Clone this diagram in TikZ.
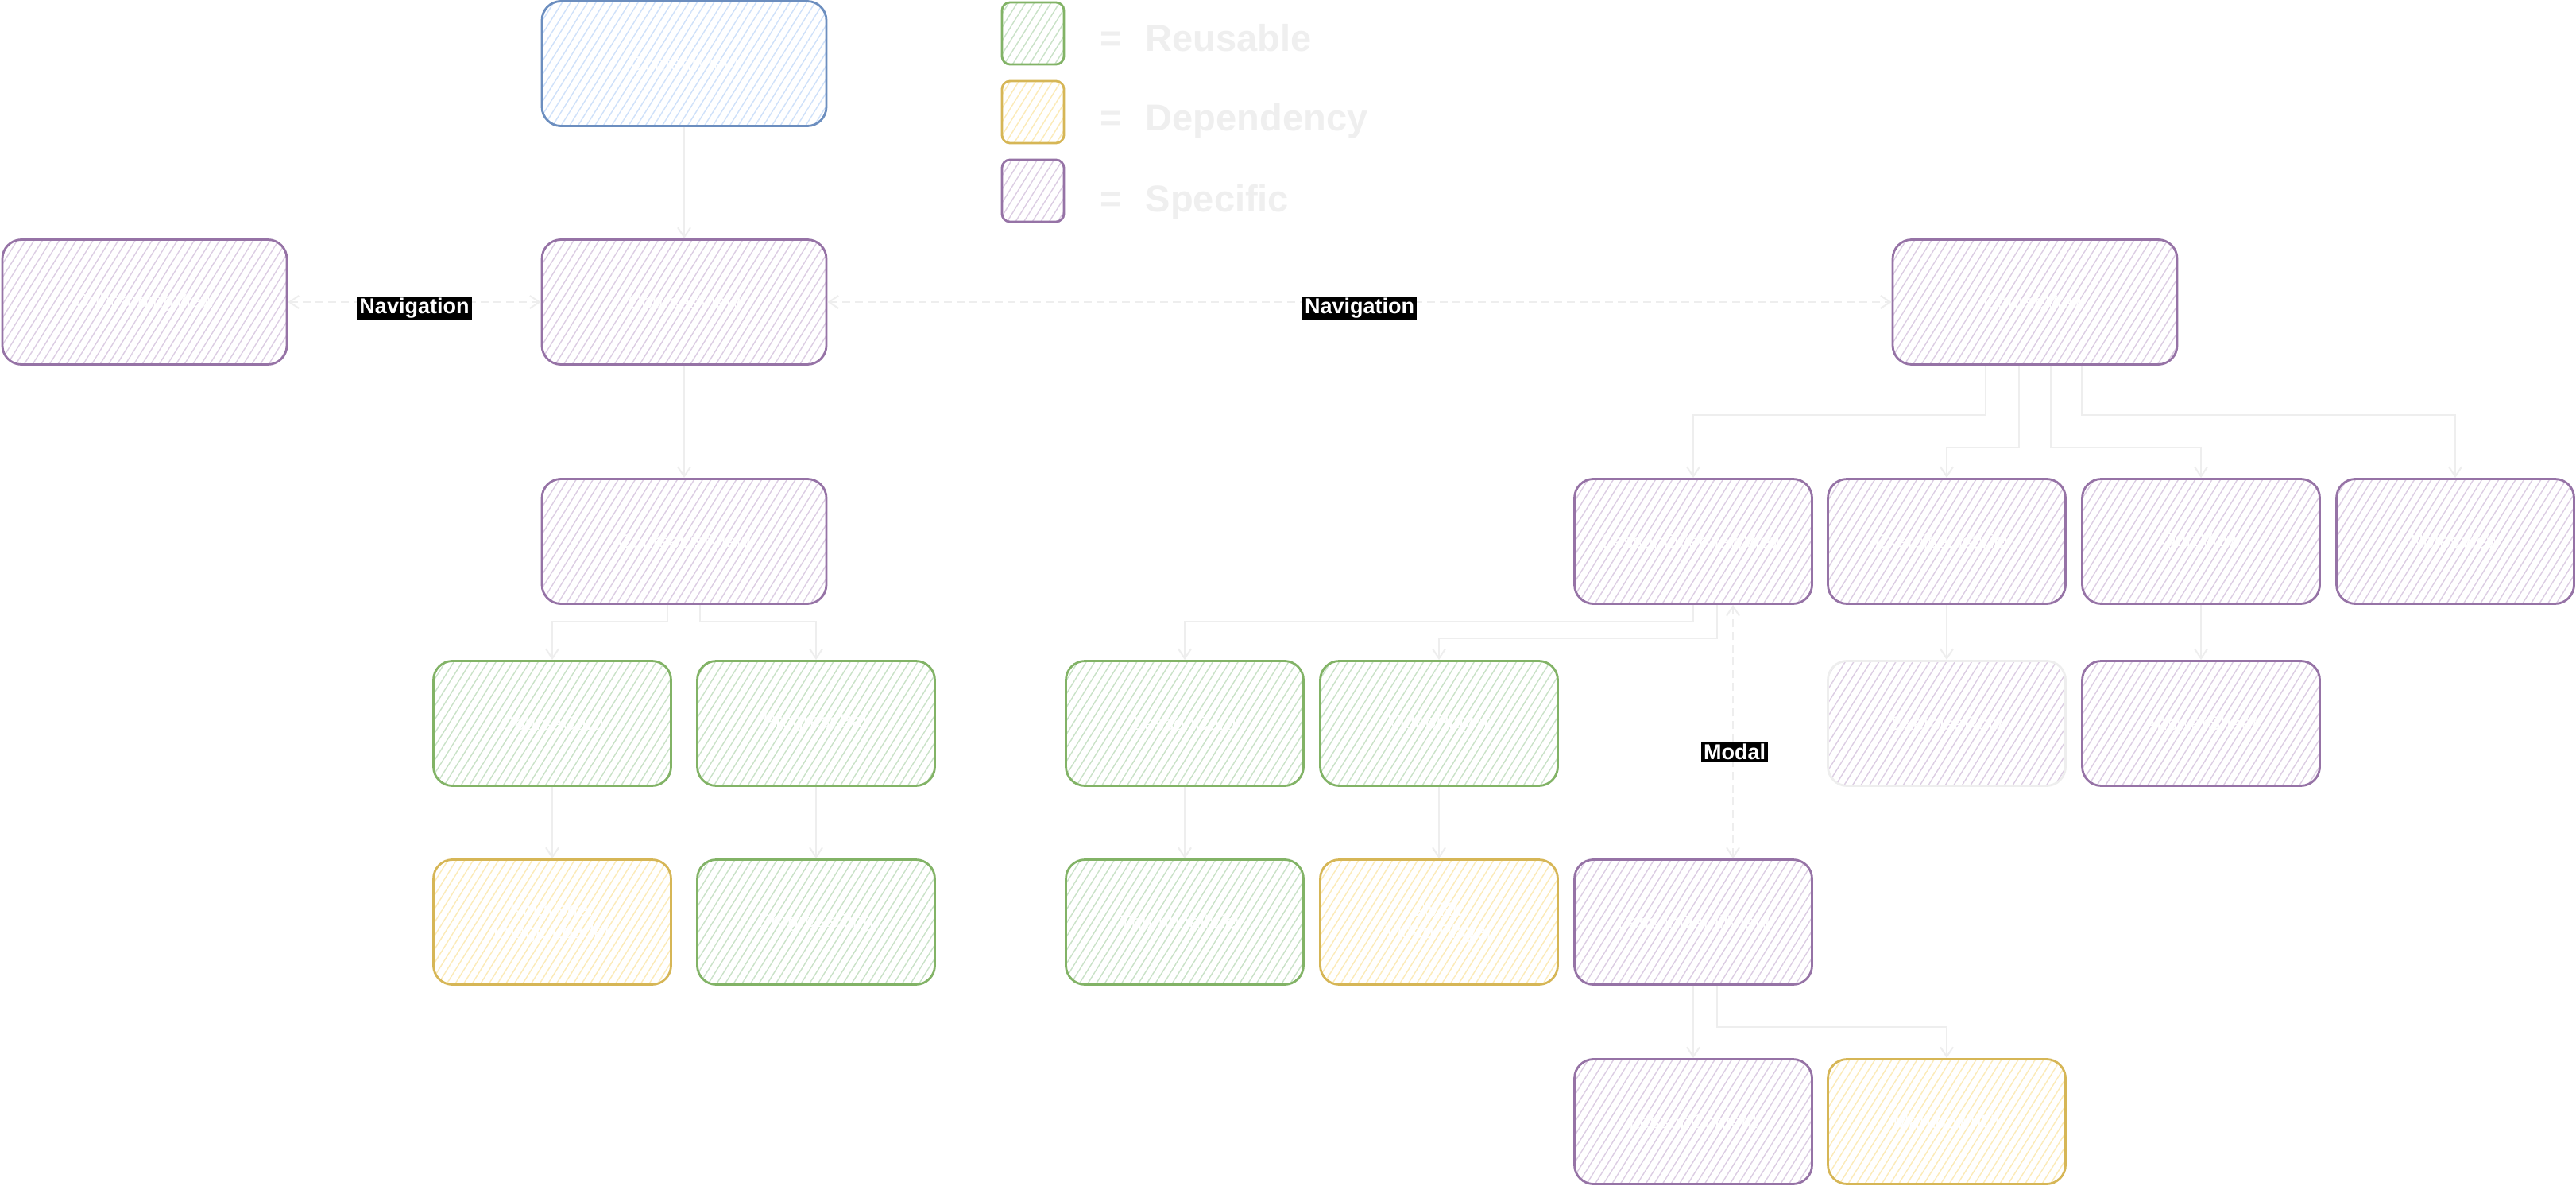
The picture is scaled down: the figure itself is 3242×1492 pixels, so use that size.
\documentclass[tikz,border=0pt]{standalone}
\usepackage{fontspec}
\setmainfont{Liberation Sans}
\usetikzlibrary{arrows.meta,patterns.meta}
\definecolor{gS}{HTML}{82B366}\definecolor{gF}{HTML}{C9E2C7}
\definecolor{yS}{HTML}{D6B656}\definecolor{yF}{HTML}{FCEBB8}
\definecolor{pS}{HTML}{9673A6}\definecolor{pF}{HTML}{DCCDE3}
\definecolor{bS}{HTML}{6C8EBF}\definecolor{bF}{HTML}{CFE1FA}
\definecolor{cC}{HTML}{EEEEEE}
\definecolor{legC}{HTML}{EFEFEF}
\tikzset{
  hatch/.style={pattern={Lines[angle=58,distance=4.5pt,line width=0.7pt]}, pattern color=#1},
  boxbase/.style={rounded corners=12pt, line width=1.4pt, inner sep=2pt, text=white,
    font=\fontsize{12}{14}\selectfont, align=center},
  big/.style={minimum width=179pt, minimum height=78.5pt},
  small/.style={minimum width=149.5pt, minimum height=78.5pt},
  spec/.style={boxbase, draw=pS, hatch=pF},
  reus/.style={boxbase, draw=gS, hatch=gF},
  depd/.style={boxbase, draw=yS, hatch=yF},
  rootbox/.style={boxbase, draw=bS, hatch=bF},
  ghost/.style={boxbase, draw=cC, hatch=pF},
  legsq/.style={rounded corners=5pt, line width=1.4pt, minimum width=39pt, minimum height=39pt, inner sep=0pt},
  legtext/.style={anchor=base west, text=legC, font=\bfseries\fontsize{23.5}{28}\selectfont, inner sep=0pt},
  lab/.style={fill=black, text=white, font=\bfseries\fontsize{13.5}{15}\selectfont, inner xsep=1.5pt, inner ysep=1pt},
  tip/.tip={Straight Barb[length=6pt,width=8pt]},
  conn/.style={draw=cC, line width=1pt, -tip},
  dconn/.style={draw=cC, line width=1pt, tip-tip, dash pattern=on 5pt off 3pt},
}
\begin{document}
\begin{tikzpicture}[x=0.5pt,y=-0.5pt]
\fill[white] (0,0) rectangle (3242,1492);
\useasboundingbox (0,0) rectangle (3242,1492);

% legend
\node[legsq, draw=gS, hatch=gF] (lg) at (1300,42) {};
\node[legsq, draw=yS, hatch=yF] (ly) at (1300,141) {};
\node[legsq, draw=pS, hatch=pF] (lp) at (1300,240) {};
\node[legtext] (tg) at (1384,65) {=\hspace{15pt}Reusable};
\node[legtext] (ty) at (1384,165) {=\hspace{15pt}Dependency};
\node[legtext] (tp) at (1384,267) {=\hspace{15pt}Specific};

% boxes
\node[rootbox, big] (top) at (861,80) {ContentView};
\node[spec, big] (left) at (182,380) {OnboardingView};
\node[spec, big] (mid1) at (861,380) {CoursesView};
\node[spec, big] (rtop) at (2561,380) {CourseView};
\node[spec, big] (mid2) at (861,681) {CourseListView};

\node[spec, small] (r2a) at (2131,681) {LessonOverviewView};
\node[spec, small] (r2b) at (2450,681) {ExerciseListView};
\node[spec, small] (r2c) at (2770,681) {QuizView};
\node[spec, small] (r2d) at (3090,681) {NotesView};

\node[reus, small] (g1) at (695,910) {CourseCard};
\node[reus, small] (g2) at (1027,910) {ProgressBar};
\node[reus, small] (g3) at (1491,910) {LessonCard};
\node[reus, small] (g4) at (1811,910) {VideoPlayer};
\node[ghost, small] (q1) at (2450,910) {ExerciseRow};
\node[spec, small] (q2) at (2770,910) {AnswerSheet};

\node[depd, small] (d1) at (695,1160) {Kingfisher\\Image Loader};
\node[reus, small] (g5) at (1027,1160) {ProgressRing};
\node[reus, small] (g6) at (1491,1160) {ThumbnailView};
\node[depd, small] (d2) at (1811,1160) {AVKit\\Video Player};
\node[spec, small] (p4) at (2131,1160) {LessonDetailView};

\node[spec, small] (p5) at (2131,1411) {LessonContent};
\node[depd, small] (d3) at (2450,1411) {MarkdownUI};

% connectors
\draw[conn] (top.south) -- (mid1.north);
\draw[dconn] (left.east) -- node[lab, yshift=-4pt] (nav1) {Navigation} (mid1.west);
\draw[dconn] (mid1.east) -- node[lab, yshift=-4pt] (nav2) {Navigation} (rtop.west);
\draw[conn] (mid1.south) -- (mid2.north);
\draw[conn] ([xshift=-10.5pt]mid2.south) -- ++(0,21.5) -| (g1.north);
\draw[conn] ([xshift=10pt]mid2.south) -- ++(0,21.5) -| (g2.north);
\draw[conn] (g1.south) -- (d1.north);
\draw[conn] (g2.south) -- (g5.north);
\draw[conn] (g3.south) -- (g6.north);
\draw[conn] (g4.south) -- (d2.north);

\draw[conn] ([xshift=-31pt]rtop.south) -- ++(0,62.5) -| (r2a.north);
\draw[conn] ([xshift=-10pt]rtop.south) -- ++(0,103.5) -| (r2b.north);
\draw[conn] ([xshift=10pt]rtop.south) -- ++(0,103.5) -| (r2c.north);
\draw[conn] ([xshift=29.5pt]rtop.south) -- ++(0,62.5) -| (r2d.north);
\draw[conn] (r2b.south) -- (q1.north);
\draw[conn] (r2c.south) -- (q2.north);

\draw[conn] (r2a.south) -- ++(0,21.5) -| (g3.north);
\draw[conn] ([xshift=15pt]r2a.south) -- ++(0,42.5) -| (g4.north);
\draw[dconn] ([xshift=25pt]p4.north) -- node[lab, pos=0.43, yshift=-1.5pt, xshift=1pt] (modal) {Modal} ([xshift=25pt]r2a.south);

\draw[conn] (p4.south) -- (p5.north);
\draw[conn] ([xshift=15pt]p4.south) -- ++(0,52.5) -| (d3.north);
\end{tikzpicture}
\end{document}
